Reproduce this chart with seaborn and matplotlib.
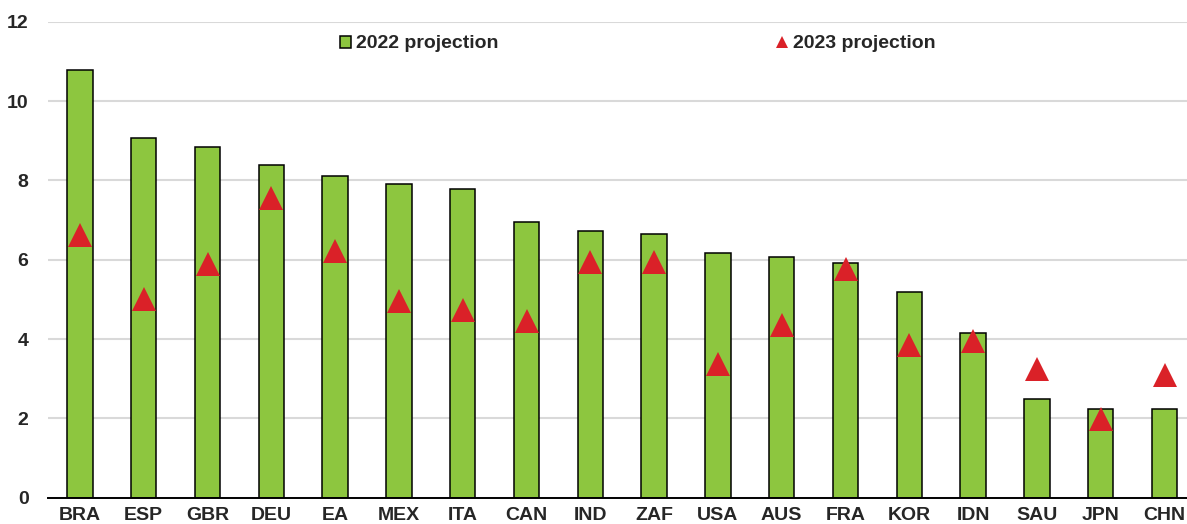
import matplotlib
matplotlib.use("Agg")
import matplotlib.pyplot as plt
import seaborn as sns
from matplotlib.lines import Line2D
from matplotlib.patches import Patch

countries = ["BRA", "ESP", "GBR", "DEU", "EA", "MEX", "ITA", "CAN", "IND",
             "ZAF", "USA", "AUS", "FRA", "KOR", "IDN", "SAU", "JPN", "CHN"]
proj_2022 = [10.78, 9.08, 8.83, 8.38, 8.10, 7.92, 7.79, 6.95, 6.73,
             6.65, 6.18, 6.08, 5.91, 5.19, 4.14, 2.49, 2.23, 2.23]
proj_2023 = [6.63, 5.01, 5.89, 7.55, 6.23, 4.95, 4.72, 4.46, 5.95,
             5.93, 3.37, 4.35, 5.77, 3.86, 3.94, 3.25, 1.98, 3.09]

green = "#8DC63F"
red = "#DA2128"
fs = 14

sns.set_style("white")
plt.rcParams["font.family"] = ["Liberation Sans", "DejaVu Sans"]
plt.rcParams["font.weight"] = "bold"

fig = plt.figure(figsize=(11.87, 5.24), dpi=100)
ax = fig.add_axes([48 / 1187, 26.4 / 524, 1148.4 / 1187, 475.8 / 524])

sns.barplot(x=countries, y=proj_2022, color=green, width=0.4,
            edgecolor="black", linewidth=1.1, saturation=1, ax=ax, zorder=2)
sns.pointplot(x=countries, y=proj_2023, color=red, markers="^",
              linestyles="none", markersize=17.5, markeredgewidth=0,
              errorbar=None, ax=ax, zorder=3)

ax.set_xlim(-0.5, 17.5)
ax.set_ylim(0, 12)
ax.set_yticks(range(0, 13, 2))
ax.yaxis.grid(True, color="#D9D9D9", linewidth=1.5, zorder=0)
ax.set_axisbelow(True)
for side in ["left", "top", "right"]:
    ax.spines[side].set_visible(False)
ax.spines["bottom"].set_color("black")
ax.spines["bottom"].set_linewidth(1.4)
ax.spines["bottom"].set_zorder(4)

# small ticks between the countries
ax.set_xticks([i - 0.5 for i in range(19)], minor=True)
ax.tick_params(axis="x", which="minor", direction="in", length=4.5, width=1.3, color="black")
ax.tick_params(axis="x", which="major", length=0, pad=7, labelsize=fs)
ax.tick_params(axis="y", length=0, pad=14, labelsize=fs)
ax.set_xlabel("")
ax.set_ylabel("")

handles = [
    Patch(facecolor=green, edgecolor="black", linewidth=1.1, label="2022 projection"),
    Line2D([], [], color=red, marker="^", linestyle="none", markersize=8,
           markeredgewidth=0, label="2023 projection"),
]
fig.legend(handles=handles, loc="center left", ncol=2, frameon=False,
           bbox_to_anchor=(340 / 1187, 1 - 44 / 524), bbox_transform=fig.transFigure,
           fontsize=fs, handlelength=0.58, handleheight=0.58, handletextpad=0.25,
           columnspacing=14.3, borderpad=0, borderaxespad=0)

fig.savefig("out.png", dpi=100)
